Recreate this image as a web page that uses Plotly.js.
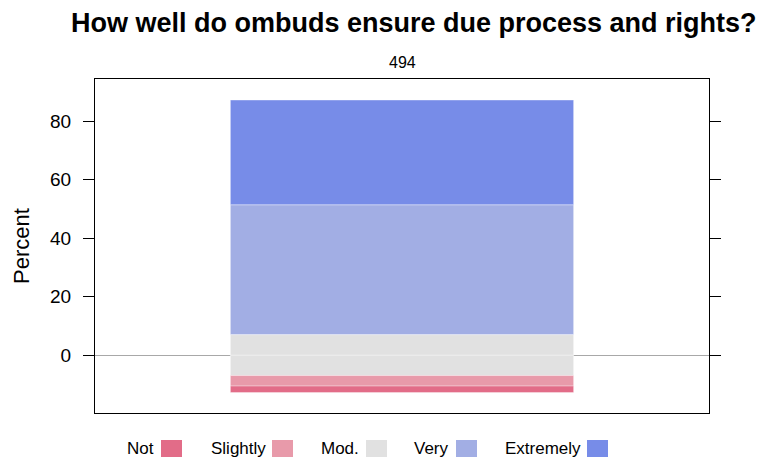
<!DOCTYPE html>
<html>
<head>
<meta charset="utf-8">
<script src="https://cdn.plot.ly/plotly-3.0.1.min.js"></script>
<style>html,body{margin:0;padding:0;background:#fff;}#chart{width:764px;height:462px;}</style>
</head>
<body>
<div id="chart"></div>
<script>
const category = ["494"];
const levels = ["Not", "Slightly", "Mod.", "Very", "Extremely"];
const values = [2.2, 3.6, 14.0, 44.4, 35.8];
const colors = ["#E26C88", "#E89AAA", "#E1E1E1", "#A2AEE4", "#778CE8"];
const yTicks = [0, 20, 40, 60, 80];

const FONT = "Liberation Sans, Arial, sans-serif";
const barW = 0.559;
const mk = (name, v, color) => ({
  type: "bar", x: category, y: [v], name: name, width: barW,
  marker: {color: color, line: {color: "rgba(255,255,255,0.35)", width: 1}},
  showlegend: false, hoverinfo: "name+y"
});

const half = values[2] / 2;
const traces = [
  mk(levels[2], -half, colors[2]),
  mk(levels[2], half, colors[2]),
  mk(levels[1], -values[1], colors[1]),
  mk(levels[3], values[3], colors[3]),
  mk(levels[0], -values[0], colors[0]),
  mk(levels[4], values[4], colors[4])
];

const L = 95, R = 709, T = 79, B = 413, W = 764, H = 462;
const pw = R - L, ph = B - T;
const px = x => (x - L) / pw;
const py = y => (B - y) / ph;

const annotations = [
  {text: "<b>How well do ombuds ensure due process and rights?</b>", xref: "paper", yref: "paper",
   x: px(414), y: py(23), xanchor: "center", yanchor: "middle", showarrow: false,
   font: {family: FONT, size: 27, color: "#000"}},
  {text: "494", xref: "paper", yref: "paper", x: px(402), y: py(62), xanchor: "center", yanchor: "middle",
   showarrow: false, font: {family: FONT, size: 16, color: "#000"}},
  {text: "Percent", xref: "paper", yref: "paper", x: px(21), y: py(246), xanchor: "center", yanchor: "middle",
   textangle: -90, showarrow: false, font: {family: FONT, size: 22, color: "#000"}}
];
const shapes = [];
const legTextRight = [156, 268, 361, 451, 583];
const legSwatchLeft = [161, 272, 366, 456, 587];
levels.forEach((lv, i) => {
  annotations.push({text: lv, xref: "paper", yref: "paper", x: px(legTextRight[i]), y: py(448),
    xanchor: "right", yanchor: "middle", showarrow: false,
    font: {family: FONT, size: 17, color: "#000"}});
  shapes.push({type: "rect", xref: "paper", yref: "paper",
    x0: px(legSwatchLeft[i]), x1: px(legSwatchLeft[i] + 21), y0: py(457), y1: py(440),
    fillcolor: colors[i], line: {width: 0}});
});

const layout = {
  width: W, height: H,
  margin: {l: L, r: W - R, t: T, b: H - B, pad: 0},
  paper_bgcolor: "#fff", plot_bgcolor: "#fff",
  barmode: "relative",
  showlegend: false,
  xaxis: {type: "category", range: [-0.5, 0.5], showticklabels: false, ticks: "",
          showline: true, linecolor: "#000", linewidth: 1, mirror: true,
          showgrid: false, zeroline: false, fixedrange: true},
  yaxis: {range: [-19.8, 94.4], tickvals: yTicks, ticktext: yTicks.map(String),
          ticks: "outside", ticklen: 11, tickcolor: "#000", tickwidth: 1,
          ticklabelstandoff: 8,
          showline: true, linecolor: "#000", linewidth: 1, mirror: "ticks",
          showgrid: false, zeroline: true, zerolinecolor: "#A8A8A8", zerolinewidth: 1,
          tickfont: {family: FONT, size: 19, color: "#000"}, fixedrange: true},
  annotations: annotations,
  shapes: shapes,
  font: {family: FONT}
};

Plotly.newPlot("chart", traces, layout, {displayModeBar: false, staticPlot: true});
</script>
</body>
</html>
